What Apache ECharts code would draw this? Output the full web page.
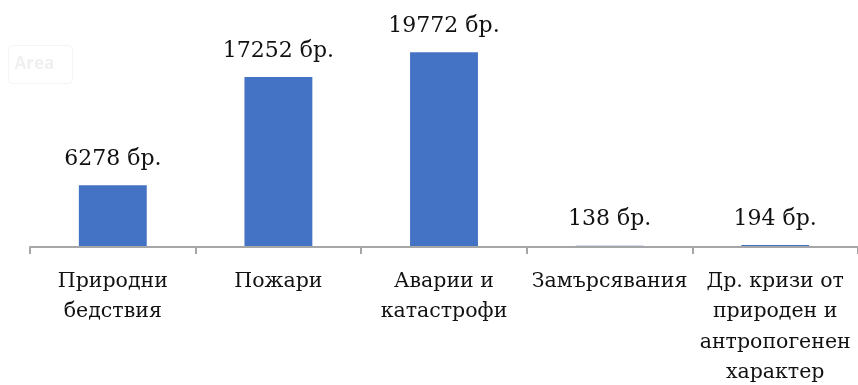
<!DOCTYPE html>
<html>
<head>
<meta charset="utf-8">
<script src="https://cdn.jsdelivr.net/npm/echarts@6/dist/echarts.min.js"></script>
<style>
  html, body { margin: 0; padding: 0; background: #fff; }
  #chart { width: 858px; height: 385px; }
</style>
</head>
<body>
<div id="chart"></div>
<script>
var categories = [
    "Природни\nбедствия",
    "Пожари",
    "Аварии и\nкатастрофи",
    "Замърсявания",
    "Др. кризи от\nприроден и\nантропогенен\nхарактер"
];
var counts = [6278, 17252, 19772, 138, 194];
var unitSuffix = " бр.";

var chart = echarts.init(document.getElementById("chart"));

chart.setOption({
    animation: false,
    grid: { left: 30, right: 0, top: 50, bottom: 138, outerBoundsMode: "none", containLabel: false },
    graphic: [{
        type: "group",
        left: 8,
        top: 45,
        children: [{
            type: "rect",
            shape: { x: 0, y: 0, width: 64, height: 38, r: 4 },
            style: { fill: "#fff", stroke: "#f4f4f4", lineWidth: 1 }
        }, {
            type: "text",
            x: 6,
            y: 10,
            style: { text: "Area", font: "bold 17px 'Open Sans'", fill: "#f0f0f0" }
        }]
    }],
    xAxis: {
        type: "category",
        data: categories,
        z: 3,
        axisLine: { lineStyle: { color: "#a6a6a6", width: 2 } },
        axisTick: { show: true, length: 7, lineStyle: { color: "#a6a6a6", width: 2 } },
        axisLabel: {
            interval: 0,
            margin: 19,
            color: "#111",
            fontFamily: "DejaVu Serif",
            fontSize: 20.5,
            lineHeight: 30.5
        }
    },
    yAxis: {
        type: "value",
        min: 0,
        max: 20000,
        show: false,
        splitLine: { show: false }
    },
    series: [{
        type: "bar",
        data: counts,
        barWidth: "41%",
        itemStyle: { color: "#4472C4" },
        label: {
            show: true,
            position: "top",
            distance: 15,
            color: "#111",
            fontFamily: "DejaVu Serif",
            fontSize: 22,
            formatter: function (p) { return p.value + unitSuffix; }
        }
    }]
});
</script>
</body>
</html>
